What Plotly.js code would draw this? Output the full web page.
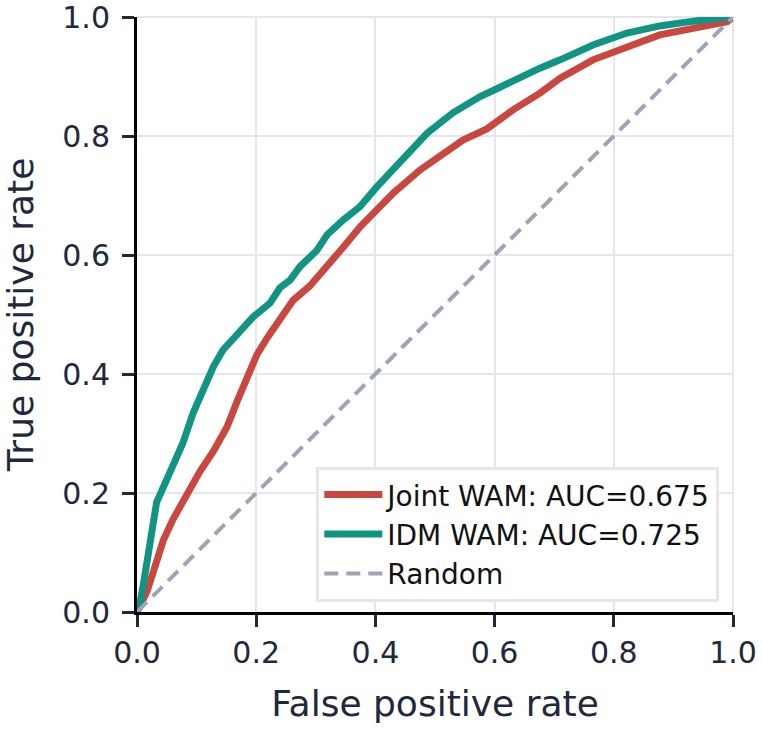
<!DOCTYPE html>
<html>
<head>
<meta charset="utf-8">
<script src="https://cdn.plot.ly/plotly-3.0.1.min.js"></script>
<style>
  html, body { margin: 0; padding: 0; background: #fff; }
  #chart { width: 762px; height: 730px; }
</style>
</head>
<body>
<div id="chart"></div>
<script>
// ROC curves for the two world-action models, plus the chance diagonal
const jointFpr = [0, 0.008, 0.017, 0.025, 0.034, 0.044, 0.06, 0.077, 0.094, 0.106, 0.128, 0.151, 0.168, 0.185, 0.201, 0.218, 0.235, 0.262, 0.29, 0.319, 0.346, 0.374, 0.402, 0.43, 0.475, 0.508, 0.547, 0.587, 0.631, 0.676, 0.71, 0.765, 0.822, 0.877, 0.933, 0.99, 1];
const jointTpr = [0, 0.015, 0.035, 0.06, 0.09, 0.12, 0.155, 0.186, 0.212, 0.237, 0.27, 0.311, 0.354, 0.393, 0.432, 0.46, 0.486, 0.524, 0.548, 0.58, 0.613, 0.647, 0.676, 0.704, 0.743, 0.765, 0.793, 0.812, 0.844, 0.872, 0.897, 0.928, 0.95, 0.97, 0.981, 0.992, 1];

const idmFpr = [0, 0.005, 0.01, 0.017, 0.022, 0.027, 0.033, 0.039, 0.06, 0.077, 0.094, 0.111, 0.128, 0.144, 0.173, 0.195, 0.223, 0.24, 0.257, 0.273, 0.302, 0.319, 0.346, 0.374, 0.402, 0.43, 0.453, 0.487, 0.53, 0.575, 0.609, 0.643, 0.676, 0.71, 0.765, 0.822, 0.877, 0.933, 0.99, 1];
const idmTpr = [0, 0.015, 0.042, 0.087, 0.13, 0.162, 0.185, 0.198, 0.244, 0.284, 0.334, 0.373, 0.412, 0.44, 0.474, 0.496, 0.519, 0.545, 0.558, 0.58, 0.608, 0.634, 0.659, 0.681, 0.714, 0.743, 0.771, 0.805, 0.839, 0.866, 0.882, 0.899, 0.914, 0.928, 0.953, 0.973, 0.985, 0.993, 0.998, 1];

const randomFpr = [0, 1];
const randomTpr = [0, 1];

const seriesNames = ['Joint WAM: AUC=0.675', 'IDM WAM: AUC=0.725', 'Random'];
const tickValues = [0, 0.2, 0.4, 0.6, 0.8, 1.0];
const tickLabels = ['0.0', '0.2', '0.4', '0.6', '0.8', '1.0'];

const textColor = '#1e293b';
const gridColor = '#e5e7eb';
const fontFamily = '"DejaVu Sans", Verdana, sans-serif';

const traces = [
  {
    x: jointFpr, y: jointTpr, name: seriesNames[0],
    type: 'scatter', mode: 'lines',
    line: { color: '#c9473e', width: 7 },
    cliponaxis: false
  },
  {
    x: idmFpr, y: idmTpr, name: seriesNames[1],
    type: 'scatter', mode: 'lines',
    line: { color: '#129482', width: 7 },
    cliponaxis: false
  },
  {
    x: randomFpr, y: randomTpr, name: seriesNames[2],
    type: 'scatter', mode: 'lines',
    line: { color: '#9ca4b5', width: 4, dash: '14px,8px' }
  }
];

function axisStyle(titleText) {
  return {
    range: [0, 1],
    tickvals: tickValues,
    ticktext: tickLabels,
    ticks: 'outside',
    ticklen: 12,
    tickwidth: 3,
    tickcolor: textColor,
    tickfont: { family: fontFamily, size: 30, color: textColor },
    ticklabeloverflow: 'allow',
    showline: true,
    linecolor: '#000000',
    linewidth: 3,
    showgrid: true,
    gridcolor: gridColor,
    gridwidth: 2,
    zeroline: false,
    fixedrange: true,
    layer: 'above traces',
    title: { text: titleText, font: { family: fontFamily, size: 36, color: textColor } }
  };
}

const xaxis = axisStyle('False positive rate');
xaxis.title.standoff = 22;
const yaxis = axisStyle('True positive rate');
yaxis.title.standoff = 18;
yaxis.ticklabelstandoff = 6;

// grid lines along the far edges of the plot area (top and right)
const edgeGrid = [
  { type: 'line', xref: 'paper', yref: 'paper', x0: 0, x1: 1, y0: 1, y1: 1, layer: 'below',
    line: { color: gridColor, width: 2 } },
  { type: 'line', xref: 'paper', yref: 'paper', x0: 1, x1: 1, y0: 0, y1: 1, layer: 'below',
    line: { color: gridColor, width: 2 } }
];

const layout = {
  width: 762,
  height: 730,
  margin: { l: 137, r: 29, t: 17, b: 118 },
  paper_bgcolor: '#ffffff',
  plot_bgcolor: '#ffffff',
  font: { family: fontFamily, color: textColor },
  xaxis: xaxis,
  yaxis: yaxis,
  shapes: edgeGrid,
  showlegend: true,
  legend: {
    x: 0.977, xanchor: 'right',
    y: 0.017, yanchor: 'bottom',
    bgcolor: '#ffffff',
    bordercolor: gridColor,
    borderwidth: 3,
    font: { family: fontFamily, size: 28, color: '#111111' },
    itemwidth: 58,
    tracegroupgap: 0
  }
};

Plotly.newPlot('chart', traces, layout, { displayModeBar: false, staticPlot: true });
</script>
</body>
</html>
